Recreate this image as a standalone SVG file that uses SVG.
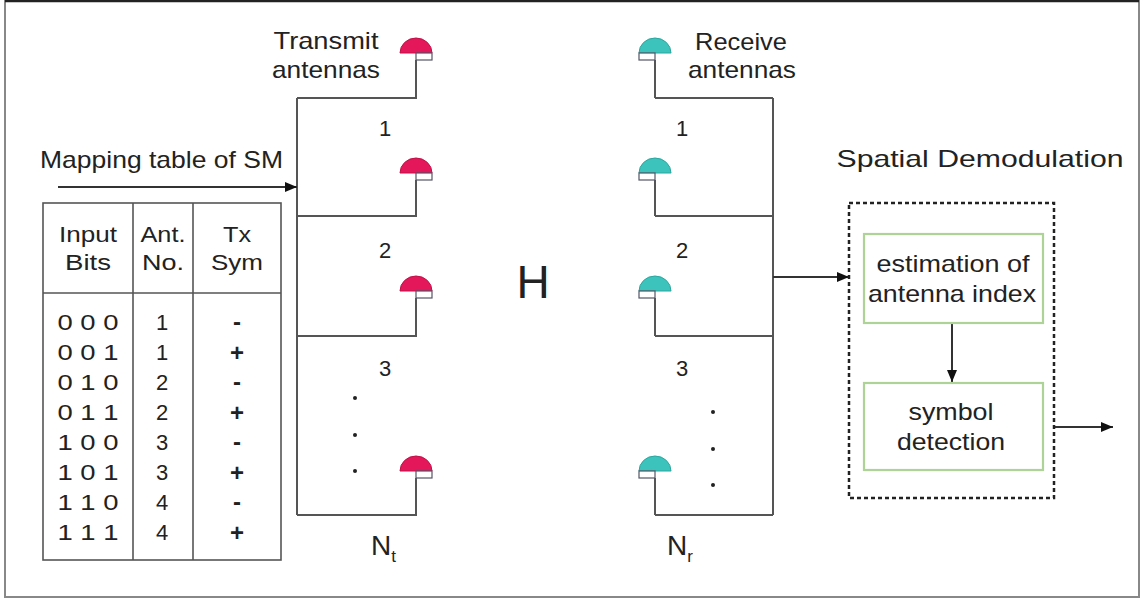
<svg xmlns="http://www.w3.org/2000/svg" width="1142" height="600" viewBox="0 0 1142 600">
<style>
  text { font-family: "Liberation Sans", Arial, sans-serif; fill: #222; }
  .lbl { font-size: 24px; }
  .tbl { font-size: 22px; }
  .num { font-size: 22px; text-anchor: middle; }
  .wire { fill: none; stroke: #555; stroke-width: 2; }
  .box { fill: #fff; stroke: #aed396; stroke-width: 2.2; }
  .dash { fill: none; stroke: #222; stroke-width: 2.5; stroke-dasharray: 4 3; }
  .grid { fill: none; stroke: #555; stroke-width: 1.6; }
  .dot { fill: #222; }
</style>
<defs>
  <marker id="arr" viewBox="0 0 12 10" refX="12" refY="5" markerWidth="13" markerHeight="10" markerUnits="userSpaceOnUse" orient="auto">
    <path d="M0,0 L12,5 L0,10 Z" fill="#111"/>
  </marker>
  <g id="txAnt">
    <path d="M-16,0 A16,15 0 0 1 16,0 Z" fill="#e3175a" stroke="#c01048" stroke-width="1"/>
    <rect x="0" y="0" width="16" height="7" fill="#fff" stroke="#556" stroke-width="1.2"/>
  </g>
  <g id="rxAnt">
    <path d="M-16,0 A16,15 0 0 1 16,0 Z" fill="#3cc4bc" stroke="#2aa69e" stroke-width="1"/>
    <rect x="-16" y="0" width="16" height="7" fill="#fff" stroke="#556" stroke-width="1.2"/>
  </g>
</defs>

<rect x="0" y="0" width="1142" height="600" fill="#fff"/>
<rect x="5" y="1" width="1134" height="596" fill="none" stroke="#888" stroke-width="2"/>
<line x1="5" y1="1" x2="1139" y2="1" stroke="#222" stroke-width="2.5"/>

<g id="connectors">
  <path class="wire" d="M297,98 V515 M297,98 H416 V60 M297,216 H416 V180 M297,336 H416 V298 M297,515 H416 V478"/>
  <path class="wire" d="M773,98 V515 M655,98 H773 M655,98 V60 M655,216 H773 M655,216 V180 M655,336 H773 M655,336 V298 M655,515 H773 M655,515 V478"/>
  <line class="wire" x1="58" y1="187" x2="297" y2="187" marker-end="url(#arr)" style="stroke:#333"/>
  <line class="wire" x1="773" y1="277" x2="849" y2="277" marker-end="url(#arr)" style="stroke:#333"/>
  <line class="wire" x1="952" y1="323" x2="952" y2="382" marker-end="url(#arr)" style="stroke:#333"/>
  <line class="wire" x1="1054" y1="427" x2="1113" y2="427" marker-end="url(#arr)" style="stroke:#333"/>
</g>

<g id="transmit-antennas">
  <use href="#txAnt" x="416" y="53"/>
  <use href="#txAnt" x="416" y="173"/>
  <use href="#txAnt" x="416" y="291"/>
  <use href="#txAnt" x="416" y="471"/>
  <text class="lbl" x="326" y="49" text-anchor="middle" textLength="105" lengthAdjust="spacingAndGlyphs">Transmit</text>
  <text class="lbl" x="326" y="78" text-anchor="middle" textLength="108" lengthAdjust="spacingAndGlyphs">antennas</text>
  <text class="num" x="385" y="136">1</text>
  <text class="num" x="385" y="258">2</text>
  <text class="num" x="385" y="376">3</text>
  <circle class="dot" cx="355" cy="398" r="2"/>
  <circle class="dot" cx="355" cy="435" r="2"/>
  <circle class="dot" cx="355" cy="471" r="2"/>
  <text x="371" y="555" style="font-size:28px">N<tspan dy="7" style="font-size:17px">t</tspan></text>
</g>

<g id="channel">
  <text x="533" y="298" text-anchor="middle" style="font-size:46px">H</text>
</g>

<g id="receive-antennas">
  <use href="#rxAnt" x="655" y="53"/>
  <use href="#rxAnt" x="655" y="173"/>
  <use href="#rxAnt" x="655" y="291"/>
  <use href="#rxAnt" x="655" y="471"/>
  <text class="lbl" x="741" y="50" text-anchor="middle" textLength="92" lengthAdjust="spacingAndGlyphs">Receive</text>
  <text class="lbl" x="742" y="78" text-anchor="middle" textLength="108" lengthAdjust="spacingAndGlyphs">antennas</text>
  <text class="num" x="682" y="136">1</text>
  <text class="num" x="682" y="258">2</text>
  <text class="num" x="682" y="376">3</text>
  <circle class="dot" cx="713" cy="412" r="2"/>
  <circle class="dot" cx="713" cy="449" r="2"/>
  <circle class="dot" cx="713" cy="485" r="2"/>
  <text x="667" y="555" style="font-size:28px">N<tspan dy="7" style="font-size:17px">r</tspan></text>
</g>

<g id="mapping-table">
  <text class="lbl" x="40" y="168" textLength="243" lengthAdjust="spacingAndGlyphs">Mapping table of SM</text>
  <rect class="grid" x="43" y="203" width="238" height="357"/>
  <line class="grid" x1="133" y1="203" x2="133" y2="560"/>
  <line class="grid" x1="193" y1="203" x2="193" y2="560"/>
  <line class="grid" x1="43" y1="293" x2="281" y2="293"/>
  <g class="tbl" text-anchor="middle">
    <text x="88" y="242" textLength="58" lengthAdjust="spacingAndGlyphs">Input</text>
    <text x="88" y="270" textLength="46" lengthAdjust="spacingAndGlyphs">Bits</text>
    <text x="163" y="242" textLength="45" lengthAdjust="spacingAndGlyphs">Ant.</text>
    <text x="163" y="270" textLength="42" lengthAdjust="spacingAndGlyphs">No.</text>
    <text x="237" y="242" textLength="28" lengthAdjust="spacingAndGlyphs">Tx</text>
    <text x="237" y="270" textLength="52" lengthAdjust="spacingAndGlyphs">Sym</text>
  </g>
  <g class="tbl" text-anchor="middle">
    <text x="88" y="330" textLength="61" lengthAdjust="spacingAndGlyphs">0 0 0</text>
    <text x="88" y="360" textLength="61" lengthAdjust="spacingAndGlyphs">0 0 1</text>
    <text x="88" y="390" textLength="61" lengthAdjust="spacingAndGlyphs">0 1 0</text>
    <text x="88" y="420" textLength="61" lengthAdjust="spacingAndGlyphs">0 1 1</text>
    <text x="88" y="450" textLength="61" lengthAdjust="spacingAndGlyphs">1 0 0</text>
    <text x="88" y="480" textLength="61" lengthAdjust="spacingAndGlyphs">1 0 1</text>
    <text x="88" y="510" textLength="61" lengthAdjust="spacingAndGlyphs">1 1 0</text>
    <text x="88" y="540" textLength="61" lengthAdjust="spacingAndGlyphs">1 1 1</text>
    <text x="162" y="330">1</text>
    <text x="162" y="360">1</text>
    <text x="162" y="390">2</text>
    <text x="162" y="420">2</text>
    <text x="162" y="450">3</text>
    <text x="162" y="480">3</text>
    <text x="162" y="510">4</text>
    <text x="162" y="540">4</text>
  </g>
  <g text-anchor="middle" style="font-size:24px;font-weight:bold">
    <text x="237" y="330">-</text>
    <text x="237" y="361">+</text>
    <text x="237" y="390">-</text>
    <text x="237" y="421">+</text>
    <text x="237" y="450">-</text>
    <text x="237" y="481">+</text>
    <text x="237" y="510">-</text>
    <text x="237" y="541">+</text>
  </g>
</g>

<g id="spatial-demodulation">
  <text class="lbl" x="980" y="167" text-anchor="middle" textLength="287" lengthAdjust="spacingAndGlyphs">Spatial Demodulation</text>
  <rect class="dash" x="849" y="203" width="205" height="295"/>
</g>

<g id="antenna-index-estimation">
  <rect class="box" x="864" y="234" width="179" height="89"/>
  <text class="lbl" x="953" y="272" text-anchor="middle" textLength="153" lengthAdjust="spacingAndGlyphs">estimation of</text>
  <text class="lbl" x="952" y="302" text-anchor="middle" textLength="168" lengthAdjust="spacingAndGlyphs">antenna index</text>
</g>

<g id="symbol-detection">
  <rect class="box" x="864" y="383" width="179" height="87"/>
  <text class="lbl" x="951" y="420" text-anchor="middle" textLength="85" lengthAdjust="spacingAndGlyphs">symbol</text>
  <text class="lbl" x="951" y="450" text-anchor="middle" textLength="108" lengthAdjust="spacingAndGlyphs">detection</text>
</g>
</svg>
